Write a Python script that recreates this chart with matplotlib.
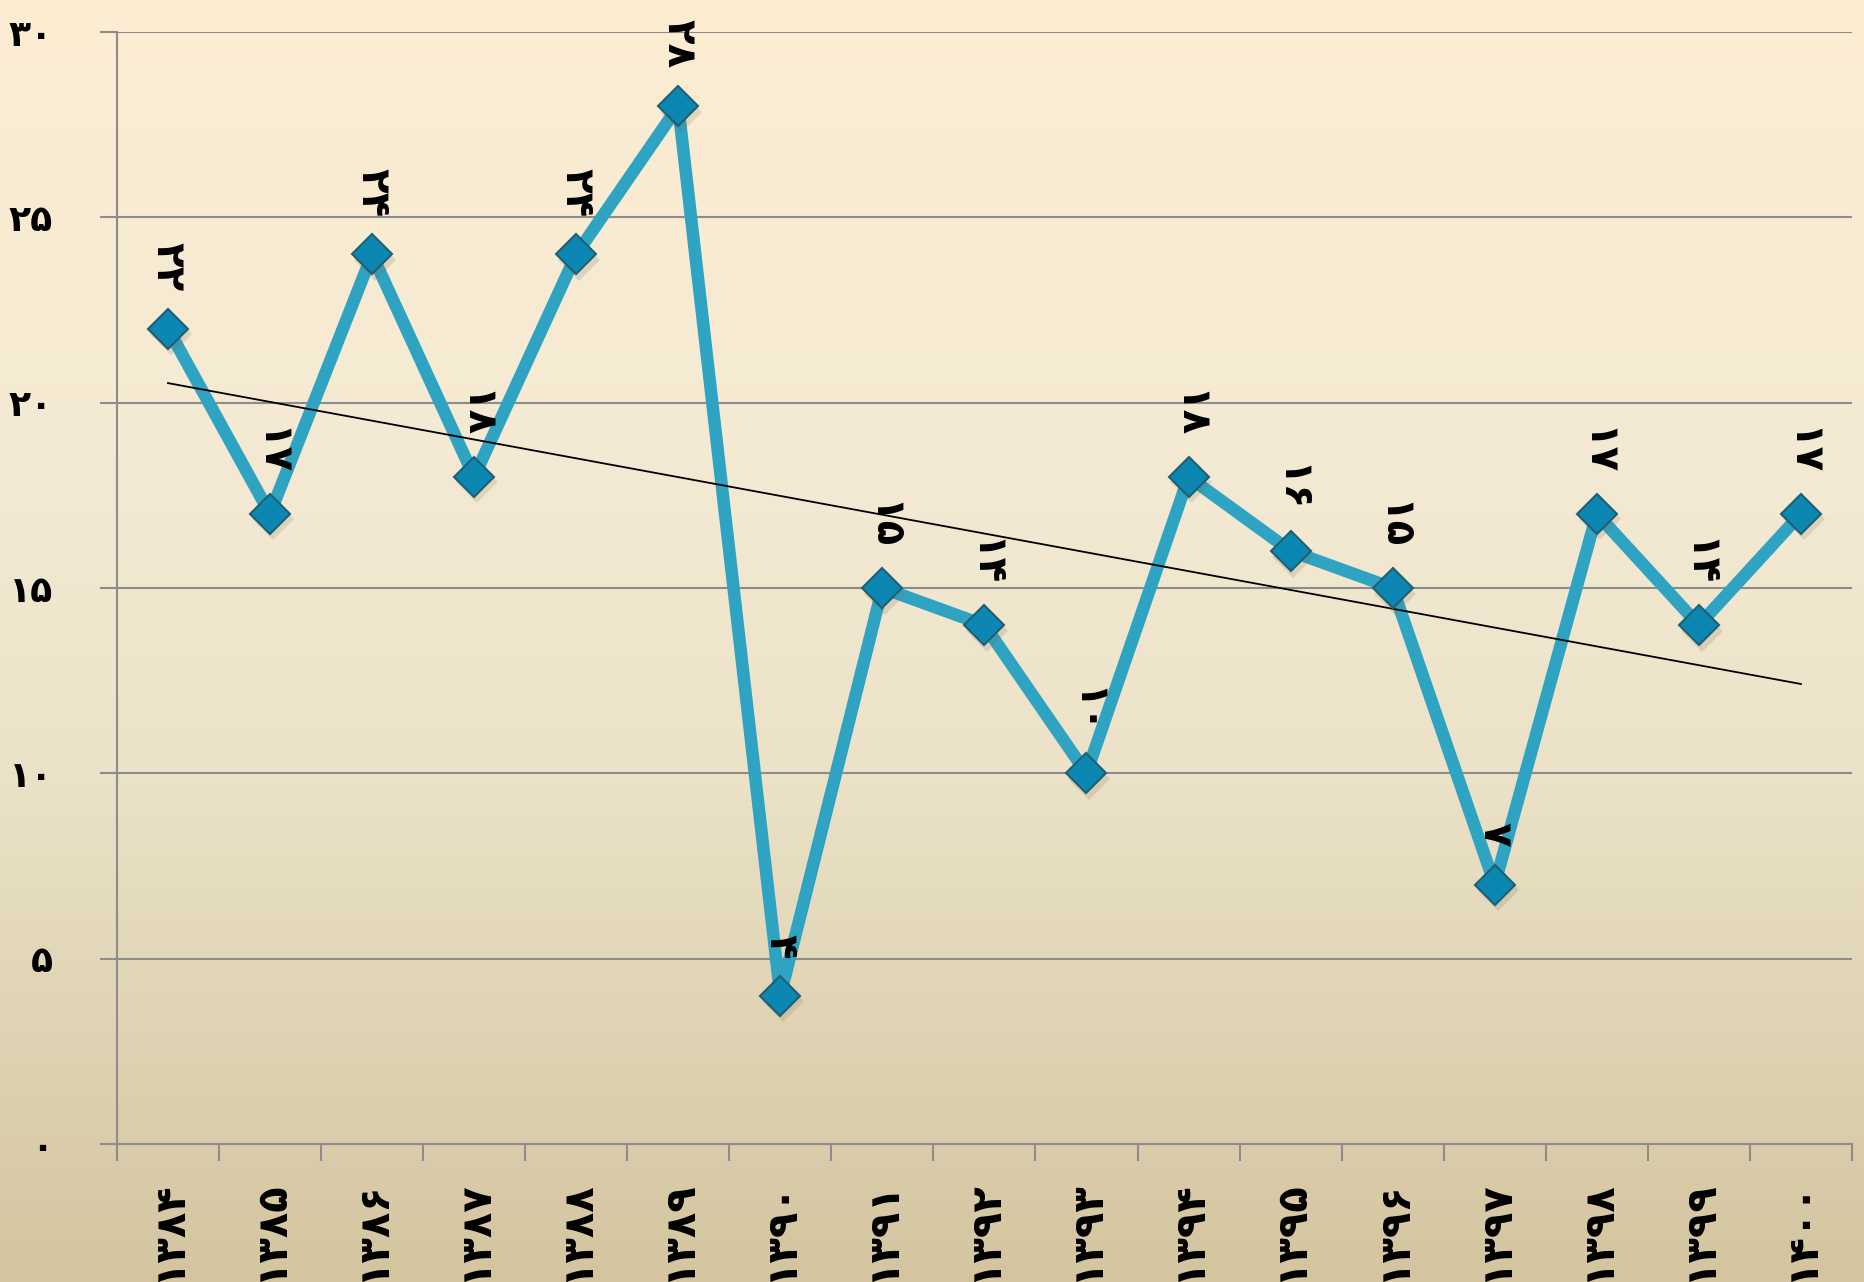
import numpy as np
import matplotlib.pyplot as plt
import matplotlib.transforms as mtransforms
from matplotlib.colors import LinearSegmentedColormap

# data
years = ['۱۳۸۴', '۱۳۸۵', '۱۳۸۶', '۱۳۸۷', '۱۳۸۸', '۱۳۸۹', '۱۳۹۰', '۱۳۹۱', '۱۳۹۲',
         '۱۳۹۳', '۱۳۹۴', '۱۳۹۵', '۱۳۹۶', '۱۳۹۷', '۱۳۹۸', '۱۳۹۹', '۱۴۰۰']
values = [22, 17, 24, 18, 24, 28, 4, 15, 14, 10, 18, 16, 15, 7, 17, 14, 17]
point_labels = ['۲۲', '۱۷', '۲۴', '۱۸', '۲۴', '۲۸', '۴', '۱۵', '۱۴',
                '۱۰', '۱۸', '۱۶', '۱۵', '۷', '۱۷', '۱۴', '۱۷']
yticks = [0, 5, 10, 15, 20, 25, 30]
ytick_labels = ['۰', '۵', '۱۰', '۱۵', '۲۰', '۲۵', '۳۰']

plt.rcParams['font.family'] = ['DejaVu Sans']

fig = plt.figure(figsize=(18.65, 12.82), dpi=100)

# background gradient
bg = fig.add_axes([0, 0, 1, 1], zorder=-10)
cmap = LinearSegmentedColormap.from_list(
    'bg', [(0.0, '#fcedd2'), (0.4, '#f3e9d2'), (0.6, '#ebe2c8'), (1.0, '#d4c5a0')])
grad = np.linspace(0, 1, 256).reshape(-1, 1)
bg.imshow(grad, aspect='auto', cmap=cmap, extent=[0, 1, 0, 1])
bg.axis('off')

ax = fig.add_axes([0.0627, 0.1076, 0.9303, 0.8674])
ax.set_facecolor('none')

x = np.arange(len(values))

# trendline
k, b = np.polyfit(x, values, 1)
ax.plot([x[0], x[-1]], [k * x[0] + b, k * x[-1] + b], color='black', lw=1.3, zorder=4)

ax.plot(x, values, color='#2ea3c2', lw=9, solid_joinstyle='round', zorder=3)
# soft shadow under markers
shadow = ax.transData + mtransforms.ScaledTranslation(2 / 72, -4 / 72, fig.dpi_scale_trans)
ax.plot(x, values, linestyle='none', marker='D', markersize=21, color='#7a6a50',
        alpha=0.18, markeredgewidth=0, zorder=4, transform=shadow)
ax.plot(x, values, linestyle='none', marker='D', markersize=20,
        markerfacecolor='#0b87b2', markeredgecolor='#1d5f74', markeredgewidth=1.5, zorder=5)

for xi, v, lab in zip(x, values, point_labels):
    ax.annotate(lab, (xi, v), xytext=(0, 27), textcoords='offset points',
                ha='center', va='bottom', rotation=-90, fontsize=29,
                fontweight='bold', color='black', zorder=6)

ax.set_xlim(-0.5, len(values) - 0.5)
ax.set_ylim(0, 30)

ax.set_yticks(yticks)
ax.set_yticklabels(ytick_labels, fontsize=26, fontweight='bold')
ax.yaxis.grid(True, color='#8c8c8c', lw=1.5)
ax.set_axisbelow(True)

ax.set_xticks(x)
ax.set_xticklabels(years, rotation=90, fontsize=30, fontweight='bold', va='top')
ax.set_xticks(np.arange(-0.5, len(values), 1), minor=True)
ax.tick_params(axis='x', which='major', length=0, pad=26)
ax.tick_params(axis='x', which='minor', length=12, width=1.5, color='#8c8c8c')
ax.tick_params(axis='y', length=12, width=1.5, color='#8c8c8c', pad=34)

for s in ['top', 'right']:
    ax.spines[s].set_visible(False)
for s in ['left', 'bottom']:
    ax.spines[s].set_color('#8c8c8c')
    ax.spines[s].set_linewidth(1.5)

fig.savefig('out.png', dpi=100)
